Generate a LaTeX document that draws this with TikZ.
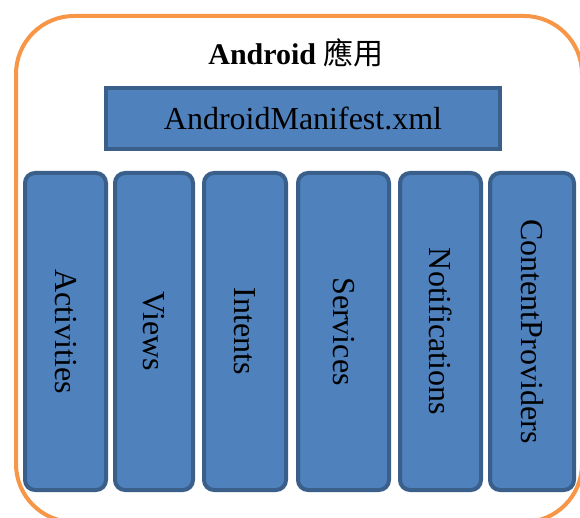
\documentclass[tikz,border=0pt]{standalone}
\usepackage{fontspec}
\setmainfont{Liberation Serif}
\newfontfamily\cjk{Noto Sans CJK TC}
\definecolor{appframe}{HTML}{F79646}
\definecolor{partfill}{HTML}{4F81BD}
\definecolor{partline}{HTML}{3A5F8B}
\tikzset{
  part/.style={draw=partline, fill=partfill, line width=4pt, inner sep=0pt,
    font=\fontsize{32}{38}\selectfont},
  column/.style={part, rotate=-90, rounded corners=10pt,
    minimum width=317pt, minimum height=#1}
}
\begin{document}
\begin{tikzpicture}[x=1pt,y=-1pt]
% Page size, the frame runs off the right and lower edges
              \useasboundingbox (0,0) rectangle (580,518);
              \clip (0,0) rectangle (580,518);
% Orange frame round the whole app
              \draw[appframe,line width=4pt,rounded corners=58pt] (16,16) rectangle (582,522);
              \node[anchor=base,font=\fontsize{30}{36}\selectfont] (title) at (296,65)
                {\textbf{Android} {\cjk 應用}};
% Manifest bar
              \node[part,minimum width=394pt,minimum height=61pt] (manifest) at (303,118.5)
                {AndroidManifest.xml};
% The six building blocks, text turned to read downwards
              \node[column=81pt] (activities) at (65.5,331.5) {Activities};
              \node[column=78pt] (views) at (154,331.5) {Views};
              \node[column=82pt] (intents) at (245,331.5) {Intents};
              \node[column=91pt] (services) at (343.5,331.5) {Services};
              \node[column=81pt] (notifications) at (440.5,331.5) {Notifications};
              \node[column=84pt] (providers) at (532,331.5) {ContentProviders};
        \end{tikzpicture}
\end{document}
